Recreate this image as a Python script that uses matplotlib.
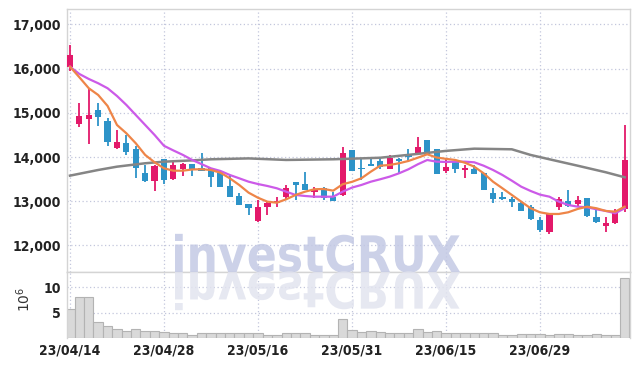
import matplotlib
matplotlib.use('Agg')
import matplotlib.pyplot as plt
import numpy as np
from matplotlib.textpath import TextPath
from matplotlib.font_manager import FontProperties
from matplotlib.patches import PathPatch
import matplotlib.transforms as mtransforms
from matplotlib.ticker import FuncFormatter, FixedLocator

# ---------------- data ----------------
opens = [16030, 14740, 14860, 15070, 14820, 14200, 14310, 14180, 13650, 13470,
         13950, 13500, 13720, 13840, 13750, 13750, 13630, 13350, 13120, 12930,
         12560, 12860, 12970, 13100, 13430, 13390, 13200, 13290, 13100, 13140,
         14150, 13750, 13840, 13910, 13730, 13950, 14060, 14070, 14390, 14180,
         13690, 13900, 13710, 13730, 13650, 13180, 13100, 13050, 12960, 12880,
         12580, 12310, 12880, 13010, 12930, 13070, 12640, 12450, 12500, 12820]
highs = [16540, 15230, 15560, 15230, 14880, 14610, 14500, 14240, 13820, 13810,
         13960, 13900, 13860, 13850, 14090, 13750, 13710, 13600, 13180, 12940,
         13030, 13010, 13100, 13370, 13440, 13660, 13320, 13330, 13220, 14220,
         14150, 13970, 14010, 14010, 14050, 13990, 14180, 14450, 14390, 14190,
         13990, 13900, 13820, 13830, 13650, 13300, 13220, 13100, 12990, 12920,
         12650, 12740, 13100, 13260, 13130, 13075, 12830, 12650, 12820, 14730]
lows = [15950, 14690, 14300, 14700, 14240, 14180, 14050, 13520, 13440, 13230,
        13390, 13490, 13580, 13570, 13690, 13330, 13320, 13090, 12910, 12680,
        12540, 12690, 12860, 13050, 13040, 13250, 13070, 13040, 13000, 13130,
        13690, 13480, 13790, 13720, 13720, 13650, 13910, 14060, 14040, 13610,
        13630, 13630, 13520, 13610, 13250, 12950, 13030, 12880, 12780, 12580,
        12300, 12260, 12800, 12880, 12890, 12650, 12500, 12310, 12490, 12760]
closes = [16310, 14930, 14950, 14910, 14330, 14340, 14120, 13750, 13470, 13800,
          13480, 13820, 13840, 13710, 13690, 13560, 13330, 13100, 12920, 12850,
          12880, 12970, 13010, 13310, 13370, 13260, 13270, 13070, 13010, 14100,
          13690, 13720, 13800, 13770, 13990, 13900, 14010, 14220, 14050, 13620,
          13770, 13720, 13750, 13620, 13260, 13050, 13050, 12980, 12790, 12590,
          12340, 12730, 13050, 12900, 13030, 12670, 12540, 12500, 12740, 13930]

ma5 = [16045, 15805, 15557, 15405, 15156, 14726, 14538, 14312, 14048, 13882,
       13746, 13692, 13692, 13720, 13725, 13708, 13647, 13520, 13369, 13195,
       13080, 12991, 12968, 13045, 13143, 13217, 13272, 13278, 13240, 13385,
       13440, 13520, 13670, 13805, 13821, 13860, 13912, 13986, 14063, 13990,
       13960, 13934, 13873, 13783, 13633, 13443, 13294, 13143, 12991, 12842,
       12750, 12713, 12713, 12751, 12826, 12878, 12842, 12781, 12765, 12878]
ma20 = [16045, 15880, 15767, 15670, 15557, 15382, 15179, 14952, 14726, 14500,
        14255, 14150, 14050, 13935, 13840, 13745, 13686, 13595, 13520, 13443,
        13390, 13346, 13294, 13217, 13143, 13120, 13104, 13104, 13104, 13217,
        13310, 13369, 13443, 13498, 13557, 13633, 13724, 13837, 13934, 13896,
        13890, 13896, 13896, 13882, 13805, 13708, 13595, 13466, 13330, 13233,
        13150, 13104, 12991, 12916, 12878, 12864, 12819, 12781, 12729, 12842]
ma60_idx = [0, 3, 5, 8, 10, 13, 15, 19, 23, 28, 33, 36, 40, 43, 47, 49, 51, 54, 57, 59]
ma60 = [13580, 13708, 13783, 13860, 13896, 13925, 13950, 13970, 13935, 13950,
        13985, 14050, 14140, 14190, 14176, 14048, 13950, 13805, 13656, 13543]

volume = [5.7, 8.0, 8.0, 3.2, 2.4, 1.7, 1.3, 1.8, 1.3, 1.3,
          1.2, 0.9, 0.9, 0.6, 1.05, 0.9, 0.9, 1.05, 0.9, 0.9,
          1.05, 0.6, 0.6, 1.05, 1.05, 1.05, 0.6, 0.6, 0.6, 3.75,
          1.6, 1.25, 1.45, 1.25, 0.95, 1.05, 0.95, 1.8, 1.25, 1.45,
          0.9, 0.9, 0.9, 0.9, 0.9, 0.9, 0.5, 0.6, 0.8, 0.8,
          0.8, 0.6, 0.8, 0.8, 0.6, 0.6, 0.8, 0.6, 0.6, 11.8]

tick_pos = [0, 10, 20, 30, 40, 50]
tick_labels = ['23/04/14', '23/04/28', '23/05/16', '23/05/31', '23/06/15', '23/06/29']
price_ticks = [12000, 13000, 14000, 15000, 16000, 17000]
vol_ticks = [5, 10]

# ---------------- style ----------------
RED = '#e3196a'
BLUE = '#2d93c8'
GRID = '#c3c7dc'
SPINE = '#d4d4d4'
TXT = '#222222'
tick_fp = FontProperties(family='DejaVu Sans', weight='bold', stretch='condensed', size=10)

W, H = 639, 366
fig = plt.figure(figsize=(W / 100, H / 100), dpi=100)
L = 66.5 / W
R = 630 / W
ax = fig.add_axes([L, 1 - 272 / H, R - L, (272 - 9) / H])
axv = fig.add_axes([L, 1 - 338 / H, R - L, (338 - 272) / H], sharex=ax)

x = np.arange(len(opens))
o = np.array(opens, float)
c = np.array(closes, float)
up = c >= o
cols = np.where(up, RED, BLUE)
bottoms = np.minimum(o, c)
heights = np.maximum(np.abs(c - o), 20)

ax.vlines(x, lows, highs, colors=cols, lw=1.3, zorder=2)
ax.bar(x, heights, bottom=bottoms, width=0.66, color=cols, zorder=3)

ax.plot(ma60_idx, ma60, color='#858585', lw=1.8, zorder=4)
ax.plot(x, ma20, color='#cc5ae8', lw=1.6, zorder=4)
ax.plot(x, ma5, color='#ee8548', lw=1.6, zorder=5)

ax.set_xlim(-0.37, 59.57)
ax.set_ylim(11400, 17350)
ax.yaxis.set_major_locator(FixedLocator(price_ticks))
ax.yaxis.set_major_formatter(FuncFormatter(lambda v, p: f'{v:,.0f}'))

axv.bar(x, volume, width=1.0, color='#d9d9d9', edgecolor='#b3b3b3', lw=0.8, zorder=2)
axv.set_ylim(0, 13.0)
axv.yaxis.set_major_locator(FixedLocator(vol_ticks))
axv.set_xticks(tick_pos)
axv.set_xticklabels(tick_labels)
axv.set_ylabel(r'$10^6$', fontsize=10, color='#333333')
axv.yaxis.set_label_coords(-0.059, 0.58)

for a in (ax, axv):
    a.grid(True, ls=(0, (1, 2)), color=GRID, lw=0.9)
    a.set_axisbelow(True)
    for s in a.spines.values():
        s.set_color(SPINE)
        s.set_linewidth(1.0)
    a.tick_params(length=0, colors=TXT, pad=4)
    for lab in a.get_xticklabels() + a.get_yticklabels():
        lab.set_fontproperties(tick_fp)
axv.spines['bottom'].set_visible(False)
ax.tick_params(labelbottom=False)

# ---------------- watermark ----------------
fp = FontProperties(family='DejaVu Sans', weight='bold')
tp = TextPath((0, 0), 'investCRUX', size=100, prop=fp)
bb = tp.get_extents()
cap = TextPath((0, 0), 'C', size=100, prop=fp).get_extents().height
sx = 285 / bb.width
sy = 38 / cap
base = H - 272
tr_main = mtransforms.Affine2D().translate(-bb.x0, 0).scale(sx, sy).translate(175, base)
tr_ref = mtransforms.Affine2D().translate(-bb.x0, 0).scale(sx, -sy).translate(175, base)
fig.add_artist(PathPatch(tp, transform=tr_main, facecolor='#c3c9e4', edgecolor='none',
                         alpha=0.85, zorder=6))
fig.add_artist(PathPatch(tp, transform=tr_ref, facecolor='#e2e4ef', edgecolor='none',
                         alpha=0.85, zorder=6))

fig.savefig('out.png', dpi=100)
